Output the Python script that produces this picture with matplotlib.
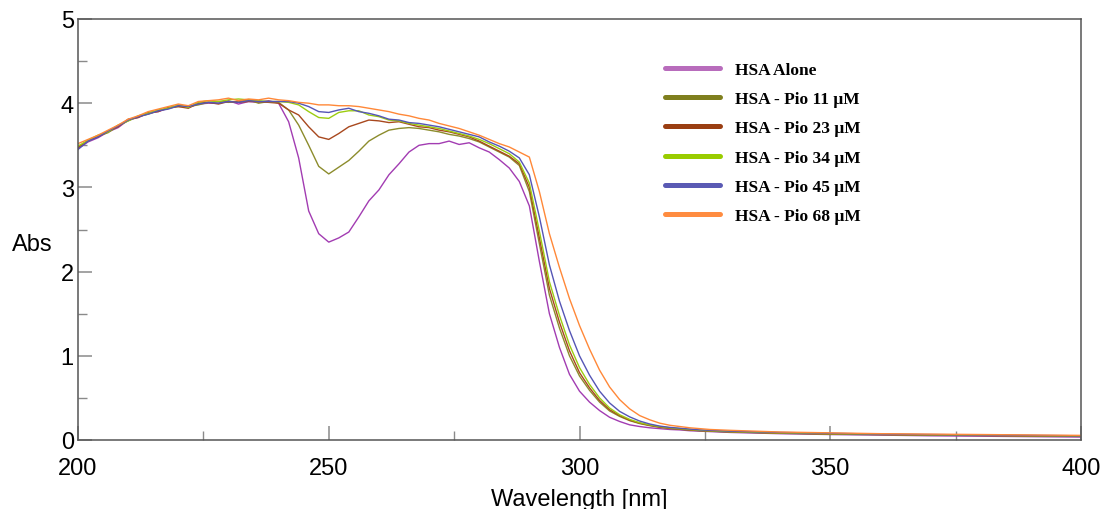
import matplotlib
matplotlib.use("Agg")
import matplotlib.pyplot as plt
from matplotlib.lines import Line2D

# ---- data ----
wavelength = list(range(200, 331, 2)) + [340, 350, 360, 370, 380, 390, 400]

labels = ["HSA Alone", "HSA - Pio 11 \u03bcM", "HSA - Pio 23 \u03bcM",
          "HSA - Pio 34 \u03bcM", "HSA - Pio 45 \u03bcM", "HSA - Pio 68 \u03bcM"]
line_colors = ["#a23cb2", "#8c8c2c", "#a8481e", "#9ccc10", "#5555b5", "#ff8838"]
legend_colors = ["#b86cbc", "#7f7f1e", "#9a3e12", "#99cc00", "#5a5ab4", "#ff8c40"]

abs_alone = [3.46, 3.54, 3.59, 3.66, 3.71, 3.80, 3.83, 3.88, 3.90, 3.94, 3.97,
             3.95, 3.99, 4.00, 4.00, 4.03, 3.99, 4.02, 4.01, 4.03, 4.00,
             3.78, 3.35, 2.72, 2.45, 2.35, 2.40, 2.47, 2.65, 2.84, 2.97,
             3.15, 3.28, 3.42, 3.50, 3.52, 3.52, 3.55, 3.51, 3.53, 3.47,
             3.42, 3.33, 3.23, 3.07, 2.78, 2.12, 1.50, 1.10, 0.78, 0.58,
             0.45, 0.35, 0.27, 0.22, 0.18, 0.16, 0.145, 0.135, 0.125, 0.12,
             0.11, 0.105, 0.10, 0.095, 0.09,
             0.075, 0.065, 0.058, 0.050, 0.045, 0.040, 0.035]

abs_pio11 = [3.48, 3.55, 3.61, 3.65, 3.73, 3.79, 3.84, 3.87, 3.91, 3.94, 3.96,
             3.96, 3.98, 4.01, 4.02, 4.01, 4.02, 4.04, 4.00, 4.02, 4.01,
             3.92, 3.74, 3.50, 3.25, 3.16, 3.24, 3.32, 3.43, 3.55, 3.62,
             3.68, 3.70, 3.71, 3.70, 3.68, 3.66, 3.63, 3.61, 3.58, 3.54,
             3.48, 3.42, 3.36, 3.26, 2.95, 2.33, 1.72, 1.33, 1.00, 0.76,
             0.59, 0.45, 0.345, 0.28, 0.23, 0.195, 0.17, 0.15, 0.137, 0.127,
             0.118, 0.11, 0.105, 0.10, 0.096,
             0.080, 0.070, 0.063, 0.058, 0.053, 0.048, 0.043]

abs_pio23 = [3.47, 3.56, 3.60, 3.67, 3.72, 3.81, 3.83, 3.89, 3.90, 3.95, 3.96,
             3.94, 4.00, 4.01, 3.99, 4.02, 4.01, 4.02, 4.02, 4.01, 4.00,
             3.92, 3.86, 3.72, 3.60, 3.57, 3.64, 3.72, 3.76, 3.80, 3.79,
             3.77, 3.78, 3.75, 3.72, 3.71, 3.68, 3.66, 3.63, 3.60, 3.55,
             3.49, 3.43, 3.37, 3.28, 3.00, 2.40, 1.80, 1.40, 1.06, 0.80,
             0.62, 0.47, 0.36, 0.29, 0.235, 0.20, 0.175, 0.155, 0.14, 0.13,
             0.12, 0.112, 0.107, 0.102, 0.098,
             0.083, 0.073, 0.066, 0.060, 0.055, 0.050, 0.045]

abs_pio34 = [3.49, 3.56, 3.62, 3.66, 3.74, 3.79, 3.85, 3.88, 3.92, 3.94, 3.98,
             3.95, 4.01, 4.03, 4.02, 4.04, 4.05, 4.04, 4.03, 4.02, 4.02,
             4.01, 3.98, 3.90, 3.83, 3.82, 3.89, 3.91, 3.91, 3.86, 3.84,
             3.80, 3.79, 3.76, 3.74, 3.72, 3.70, 3.67, 3.64, 3.61, 3.57,
             3.52, 3.46, 3.40, 3.30, 3.05, 2.48, 1.88, 1.48, 1.13, 0.86,
             0.66, 0.50, 0.38, 0.30, 0.245, 0.205, 0.18, 0.16, 0.145, 0.135,
             0.125, 0.115, 0.11, 0.105, 0.10,
             0.085, 0.075, 0.068, 0.062, 0.057, 0.052, 0.047]

abs_pio45 = [3.45, 3.55, 3.60, 3.67, 3.73, 3.80, 3.84, 3.87, 3.91, 3.93, 3.97,
             3.96, 3.99, 4.01, 4.00, 4.02, 4.01, 4.03, 4.02, 4.02, 4.02,
             4.02, 4.00, 3.96, 3.90, 3.89, 3.92, 3.94, 3.90, 3.88, 3.85,
             3.81, 3.80, 3.77, 3.76, 3.74, 3.72, 3.69, 3.66, 3.63, 3.60,
             3.54, 3.49, 3.43, 3.35, 3.15, 2.65, 2.08, 1.65, 1.30, 1.00,
             0.77, 0.58, 0.44, 0.34, 0.275, 0.225, 0.19, 0.165, 0.15, 0.14,
             0.13, 0.12, 0.115, 0.11, 0.105,
             0.090, 0.080, 0.070, 0.065, 0.060, 0.055, 0.050]

abs_pio68 = [3.52, 3.57, 3.62, 3.68, 3.74, 3.81, 3.85, 3.90, 3.93, 3.96, 3.99,
             3.97, 4.02, 4.03, 4.04, 4.06, 4.03, 4.05, 4.04, 4.06, 4.04,
             4.03, 4.01, 4.00, 3.98, 3.98, 3.97, 3.97, 3.96, 3.94, 3.92,
             3.90, 3.87, 3.85, 3.82, 3.80, 3.76, 3.73, 3.70, 3.66, 3.62,
             3.57, 3.52, 3.48, 3.42, 3.36, 2.95, 2.45, 2.05, 1.68, 1.36,
             1.08, 0.83, 0.63, 0.48, 0.37, 0.29, 0.24, 0.20, 0.175, 0.16,
             0.145, 0.135, 0.125, 0.12, 0.115,
             0.095, 0.085, 0.075, 0.070, 0.065, 0.060, 0.055]

series = [abs_alone, abs_pio11, abs_pio23, abs_pio34, abs_pio45, abs_pio68]

x_ticks = [200, 250, 300, 350, 400]
y_ticks = [0, 1, 2, 3, 4, 5]

# ---- figure ----
fig = plt.figure(figsize=(11.03, 5.10), dpi=100)
ax = fig.add_axes([78 / 1103, (510 - 441) / 510, (1081 - 78) / 1103, (441 - 20) / 510])

for ys, c in zip(series, line_colors):
    ax.plot(wavelength, ys, color=c, lw=1.0)

ax.set_xlim(200, 400)
ax.set_ylim(0, 5)
ax.set_xticks(x_ticks)
ax.set_yticks(y_ticks)
ax.set_xticks([225, 275, 325, 375], minor=True)
ax.set_yticks([0.5, 1.5, 2.5, 3.5, 4.5], minor=True)

font = "Liberation Sans"
for lab in ax.get_xticklabels() + ax.get_yticklabels():
    lab.set_fontfamily(font)
    lab.set_fontsize(17)

ax.tick_params(which="both", direction="in", colors="#8a8a8a", labelcolor="black")
ax.tick_params(which="major", length=10, width=1.1)
ax.tick_params(which="minor", length=6.5, width=1.0)
ax.tick_params(axis="x", which="major", pad=12)
ax.tick_params(axis="y", which="major", pad=3)

for s in ax.spines.values():
    s.set_color("#555555")
    s.set_linewidth(1.1)

ax.set_xlabel("Wavelength [nm]", fontsize=17, fontfamily=font)
ax.xaxis.set_label_coords(0.5, -0.113)
ax.set_ylabel("Abs", fontsize=17, fontfamily=font, rotation=0, ha="center", va="center")
ax.yaxis.set_label_coords(-0.046, 0.466)

handles = [Line2D([0], [0], color=c, lw=3.6, solid_capstyle="round") for c in legend_colors]
leg = ax.legend(handles, labels, loc="upper left", bbox_to_anchor=(0.585, 0.898),
                frameon=False, handlelength=3.2, handletextpad=0.85, labelspacing=0.75,
                borderpad=0, borderaxespad=0,
                prop={"family": "Liberation Serif", "weight": "bold", "size": 12.5})

fig.savefig("out.png", dpi=100)
